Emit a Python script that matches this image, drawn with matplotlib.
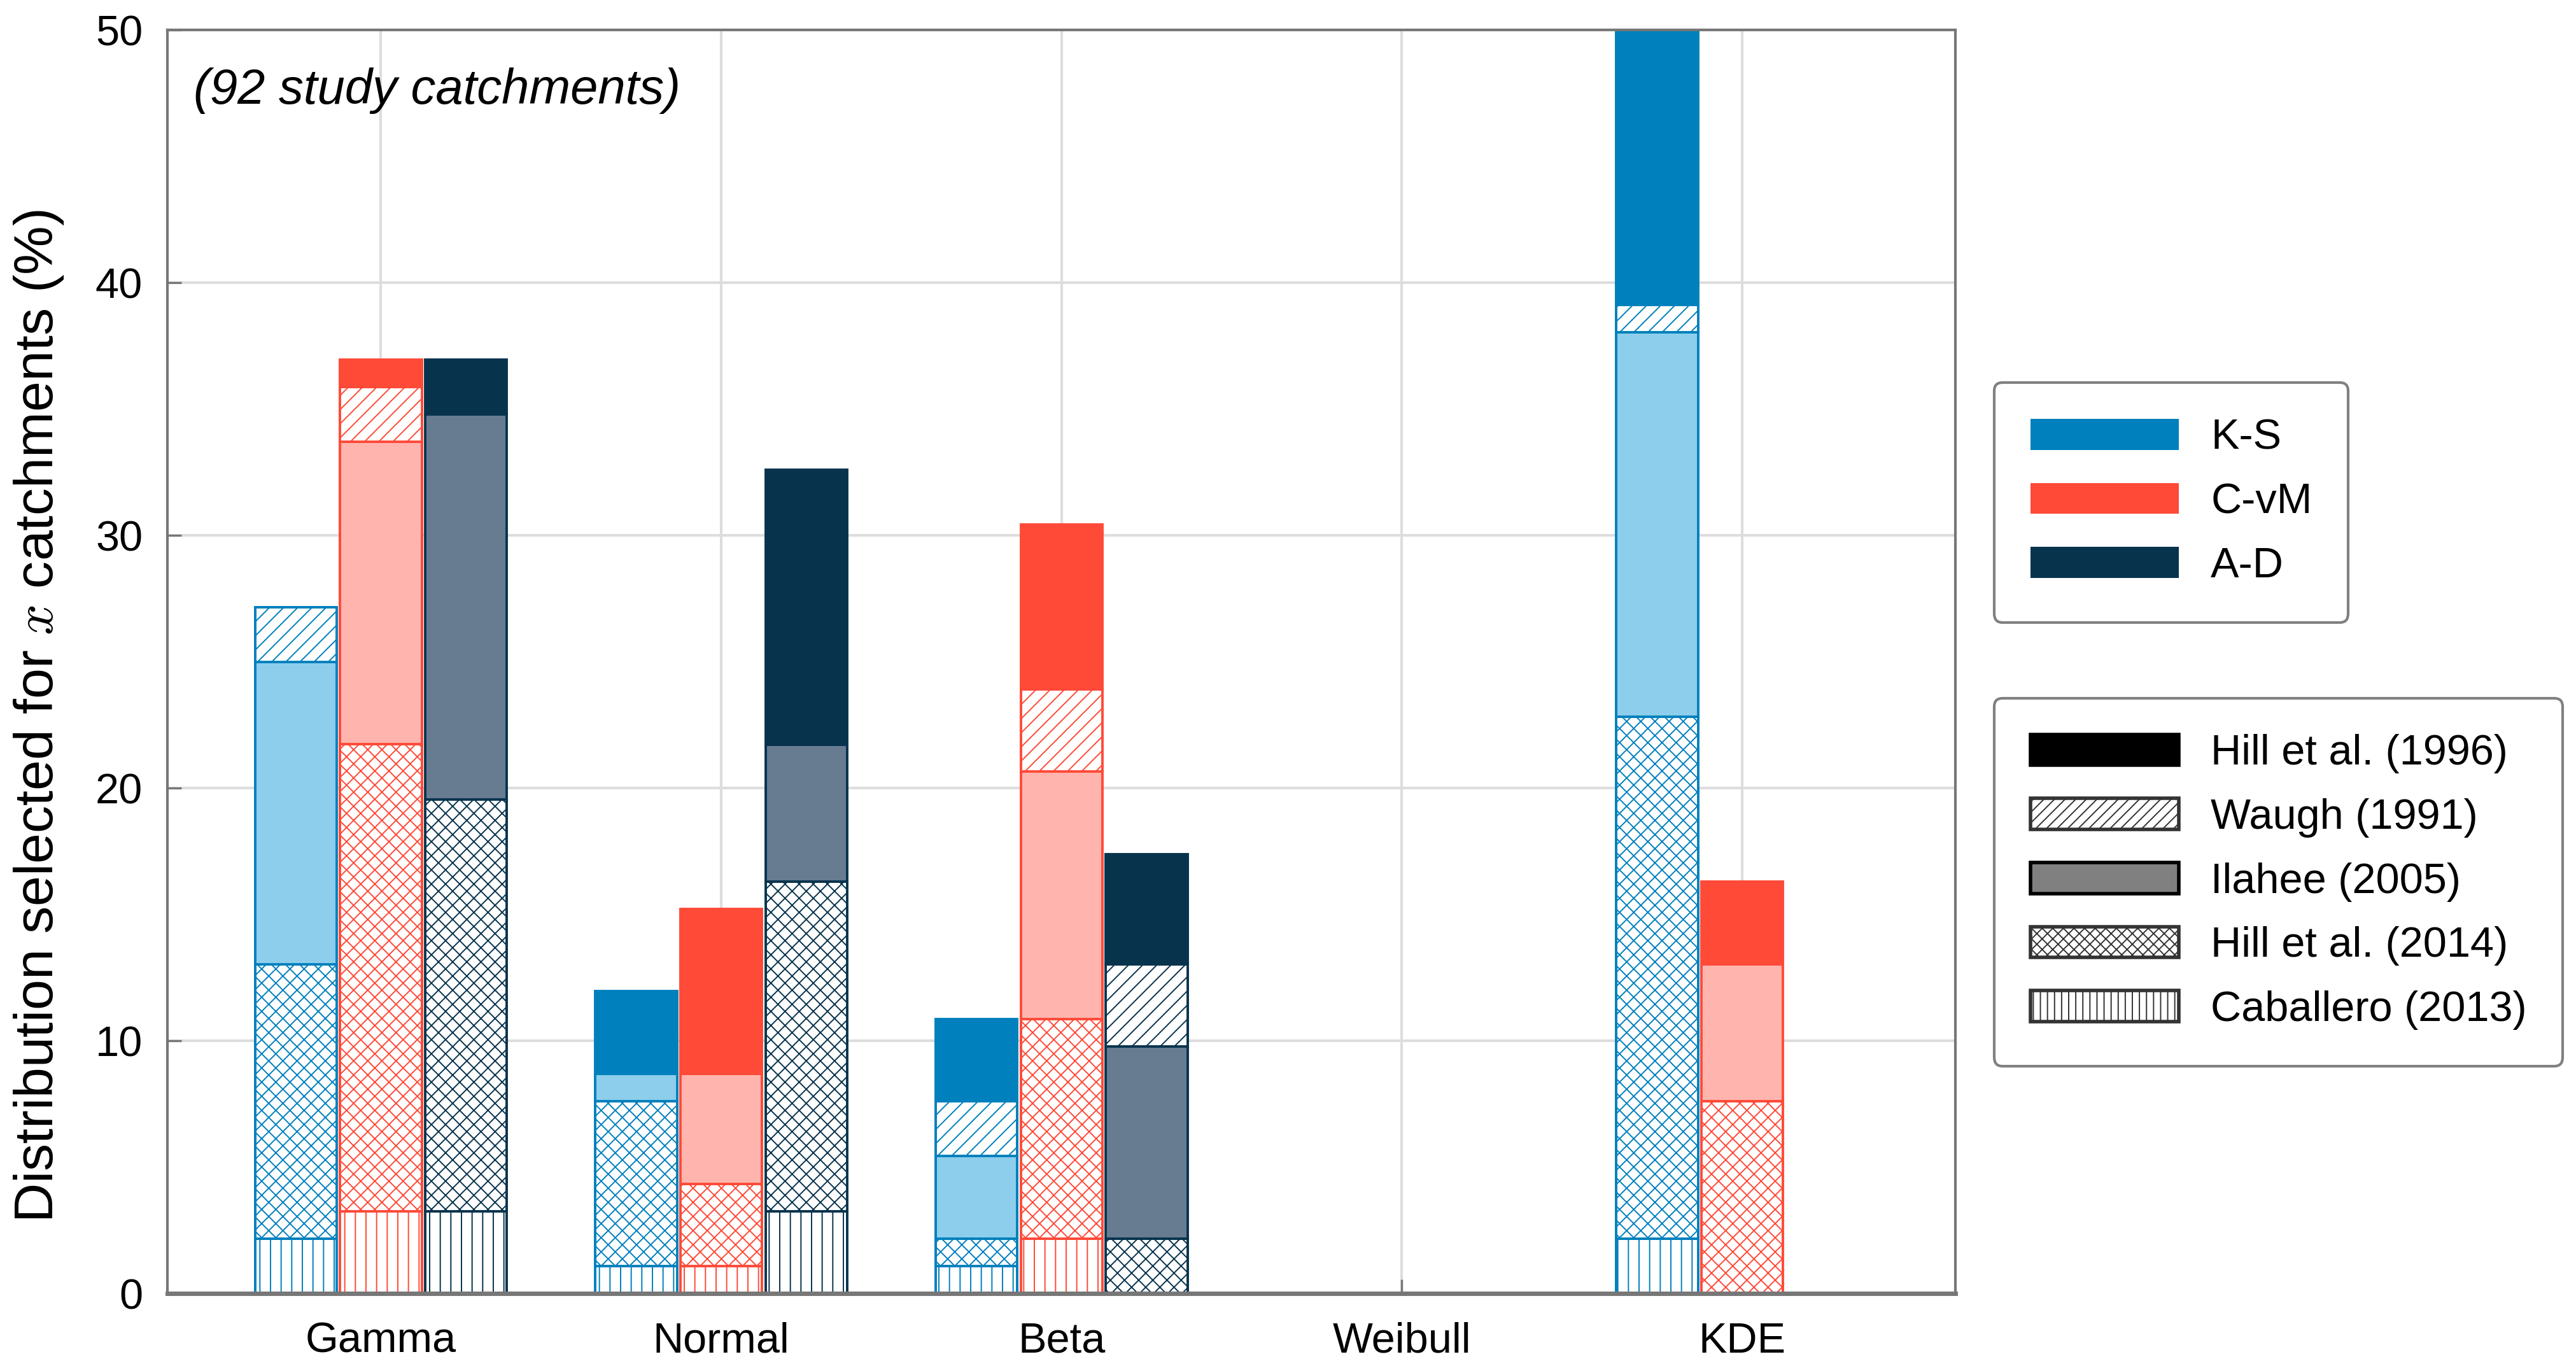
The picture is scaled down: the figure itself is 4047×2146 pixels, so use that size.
import numpy as np
import matplotlib
matplotlib.use("Agg")
import matplotlib.pyplot as plt
import matplotlib.patches as mpatches

# ---------------- data (percent of 92 catchments) ----------------
distributions = ["Gamma", "Normal", "Beta", "Weibull", "KDE"]
tests = ["K-S", "C-vM", "A-D"]
methods = ["Caballero (2013)", "Hill et al. (2014)", "Ilahee (2005)", "Waugh (1991)", "Hill et al. (1996)"]

# stacked segment heights, bottom to top: Caballero, Hill2014, Ilahee, Waugh, Hill1996
ks_caballero = [2.17, 1.09, 1.09, 0.0, 2.17]
ks_hill2014 = [10.87, 6.52, 1.09, 0.0, 20.65]
ks_ilahee = [11.96, 1.09, 3.26, 0.0, 15.22]
ks_waugh = [2.17, 0.0, 2.17, 0.0, 1.09]
ks_hill1996 = [0.0, 3.26, 3.26, 0.0, 10.87]

cvm_caballero = [3.26, 1.09, 2.17, 0.0, 0.0]
cvm_hill2014 = [18.48, 3.26, 8.70, 0.0, 7.61]
cvm_ilahee = [11.96, 4.35, 9.78, 0.0, 5.43]
cvm_waugh = [2.17, 0.0, 3.26, 0.0, 0.0]
cvm_hill1996 = [1.09, 6.52, 6.52, 0.0, 3.26]

ad_caballero = [3.26, 3.26, 0.0, 0.0, 0.0]
ad_hill2014 = [16.30, 13.04, 2.17, 0.0, 0.0]
ad_ilahee = [15.22, 5.43, 7.61, 0.0, 0.0]
ad_waugh = [0.0, 0.0, 3.26, 0.0, 0.0]
ad_hill1996 = [2.17, 10.87, 4.35, 0.0, 0.0]

yticks = [0, 10, 20, 30, 40, 50]

# ---------------- style ----------------
plt.rcParams["font.family"] = ["Liberation Sans", "DejaVu Sans"]
plt.rcParams["mathtext.fontset"] = "cm"
plt.rcParams["hatch.linewidth"] = 0.7

dark = {"K-S": "#0080BD", "C-vM": "#FF4A38", "A-D": "#08334D"}
light = {"K-S": "#8CCEEB", "C-vM": "#FFB5AE", "A-D": "#677B91"}

series = {
    "K-S": [ks_caballero, ks_hill2014, ks_ilahee, ks_waugh, ks_hill1996],
    "C-vM": [cvm_caballero, cvm_hill2014, cvm_ilahee, cvm_waugh, cvm_hill1996],
    "A-D": [ad_caballero, ad_hill2014, ad_ilahee, ad_waugh, ad_hill1996],
}

fig = plt.figure(figsize=(20.24, 10.73), dpi=200)
ax = fig.add_axes([0.065, 0.053, 0.694, 0.925])

x = np.arange(1, len(distributions) + 1)
offsets = [-0.25, 0.0, 0.25]
width = 0.24

for t, off in zip(tests, offsets):
    bottom = np.zeros(len(distributions))
    segs = series[t]
    specs = [
        ("white", "||"),      # Caballero
        ("white", "xxx"),     # Hill 2014
        (light[t], None),     # Ilahee
        ("white", "///"),     # Waugh
        (dark[t], None),      # Hill 1996
    ]
    for vals, (fc, h) in zip(segs, specs):
        vals = np.array(vals)
        lws = [1.4 if v > 0 else 0 for v in vals]
        ax.bar(x + off, vals, width=width, bottom=bottom, color=fc,
               edgecolor=dark[t], hatch=h, linewidth=lws, zorder=2)
        bottom = bottom + vals

ax.set_xlim(0.373, 5.627)
ax.set_ylim(0, 50)
ax.set_xticks(x)
ax.set_xticklabels(distributions, fontsize=24)
ax.set_yticks(yticks)
ax.set_yticklabels([str(v) for v in yticks], fontsize=24)
ax.tick_params(axis="both", direction="in", length=8, width=1.2, color="#777777")
ax.tick_params(axis="x", pad=16)
ax.tick_params(axis="y", pad=14)
ax.grid(True, color="#DDDDDD", linewidth=1.5)
ax.set_axisbelow(True)
for s in ax.spines.values():
    s.set_color("#777777")
    s.set_linewidth(1.5)
ax.spines["bottom"].set_linewidth(2.5)

ax.set_ylabel("Distribution selected for $x$ catchments (%)", fontsize=31)
ax.yaxis.set_label_coords(-0.057, 0.457)

ax.text(0.0147, 0.952, "(92 study catchments)", transform=ax.transAxes,
        fontsize=28, fontstyle="italic", ha="left", va="center")

legend_kw = dict(loc="upper left", fontsize=24, handlelength=3.5,
                 handleheight=0.75, handletextpad=0.75, labelspacing=0.58,
                 borderpad=0.85, borderaxespad=0, fancybox=True,
                 edgecolor="#808080", framealpha=1)

# legend 1: tests
h1 = [mpatches.Patch(facecolor=dark[t], edgecolor="none") for t in tests]
leg1 = fig.legend(h1, tests, bbox_to_anchor=(0.774, 0.720), **legend_kw)
leg1.get_frame().set_linewidth(1.5)

# legend 2: methods (top to bottom)
h2 = [
    mpatches.Patch(facecolor="black", edgecolor="black", linewidth=2),
    mpatches.Patch(facecolor="white", edgecolor="#333333", hatch="////", linewidth=2),
    mpatches.Patch(facecolor="#808080", edgecolor="black", linewidth=2),
    mpatches.Patch(facecolor="white", edgecolor="#333333", hatch="xxxx", linewidth=2),
    mpatches.Patch(facecolor="white", edgecolor="#333333", hatch="|||", linewidth=2),
]
labels2 = methods[::-1]
leg2 = fig.legend(h2, labels2, bbox_to_anchor=(0.774, 0.489), **legend_kw)
leg2.get_frame().set_linewidth(1.5)

fig.savefig("out.png", dpi=200)
